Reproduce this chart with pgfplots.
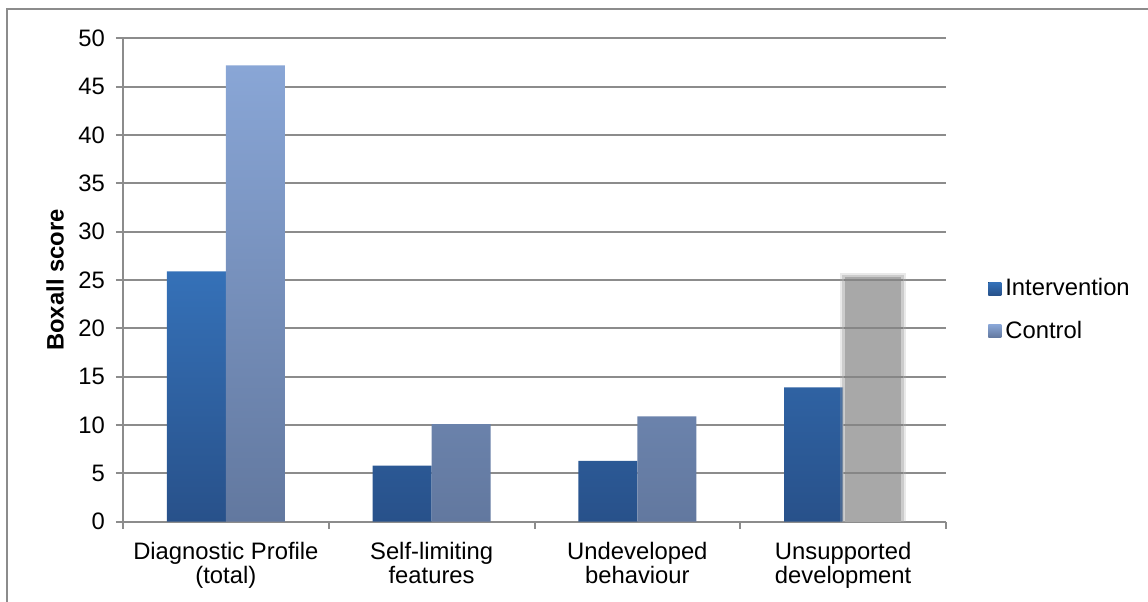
\documentclass[border=0pt]{standalone}
\usepackage{fontspec}
\setmainfont{Liberation Sans}
\usepackage{pgfplots}
\pgfplotsset{compat=1.18}
\definecolor{intTop}{HTML}{3571B8}
\definecolor{intBot}{HTML}{28518A}
\definecolor{conTop}{HTML}{89A6D6}
\definecolor{conBot}{HTML}{62789F}
\definecolor{gridc}{HTML}{8C8C8C}
\definecolor{grayBar}{HTML}{A8A8A8}
\begin{document}
\begin{tikzpicture}
\useasboundingbox (0,0) rectangle (574pt,300.5pt);
\draw[gridc, line width=1pt] (3.5pt,-20pt) -- (3.5pt,296pt) -- (620pt,296pt);
\begin{axis}[
  at={(61.5pt,39.65pt)}, anchor=south west,
  scale only axis, width=411.5pt, height=241.7pt,
  xmin=-0.5, xmax=3.5, ymin=0, ymax=50,
  ytick={0,5,...,50},
  xtick={0,1,2,3},
  xticklabels={{Diagnostic Profile\\(total)},{Self-limiting\\features},{Undeveloped\\behaviour},{Unsupported\\development}},
  minor xtick={-0.5,0.5,1.5,2.5,3.5},
  axis x line=bottom, axis y line=left,
  axis line style={gridc, line width=1pt, -},
  tick style={gridc, line width=1pt},
  major tick length=3.5pt, minor tick length=3.5pt,
  tick align=outside,
  major x tick style={draw=none},
  ymajorgrids, grid style={gridc, line width=0.9pt},
  /pgf/number format/assume math mode=true,
  tick label style={font=\fontsize{11.9}{12}\selectfont, text=black},
  xticklabel style={align=center, yshift=-3pt},
  yticklabel style={xshift=-2pt},
  ylabel={Boxall score},
  every axis y label/.style={at={(-34pt,0.5)}, rotate=90, anchor=center,
    font=\bfseries\fontsize{11.9}{12}\selectfont},
  ybar, bar width=29.5pt,
  legend style={at={(1.051,0.438)}, anchor=west, draw=none, fill=none,
    font=\fontsize{11.9}{12}\selectfont, row sep=7pt, inner sep=0pt},
  legend cell align=left,
]
\addplot[draw=none, bar shift=-14.75pt, top color=intTop, bottom color=intBot,
  legend image code/.code={\fill[top color=intTop, bottom color=intBot] (0pt,-3.2pt) rectangle (6.5pt,3.2pt);}]
  coordinates {(0,25.9) (1,5.8) (2,6.3) (3,13.9)};
\addlegendentry{Intervention}
\addplot[draw=none, bar shift=14.75pt, top color=conTop, bottom color=conBot,
  legend image code/.code={\fill[top color=conTop, bottom color=conBot] (0pt,-3.2pt) rectangle (6.5pt,3.2pt);}]
  coordinates {(0,47.2) (1,10.1) (2,10.9)};
\addlegendentry{Control}
\addplot[forget plot, draw=none, bar shift=14.75pt, bar width=33pt, fill=grayBar, fill opacity=0.25]
  coordinates {(3,25.7)};
\addplot[forget plot, draw=none, bar shift=14.75pt, bar width=31pt, fill=grayBar, fill opacity=0.45]
  coordinates {(3,25.55)};
\addplot[forget plot, draw=none, bar shift=14.75pt, bar width=28pt, fill=grayBar]
  coordinates {(3,25.35)};
\pgfplotsinvokeforeach{5,10,...,25}{
  \draw[gridc!90!black, line width=0.9pt, opacity=0.8] ([xshift=0.5pt]axis cs:3,#1) -- ([xshift=30pt]axis cs:3,#1);
}
\end{axis}
\end{tikzpicture}
\end{document}
